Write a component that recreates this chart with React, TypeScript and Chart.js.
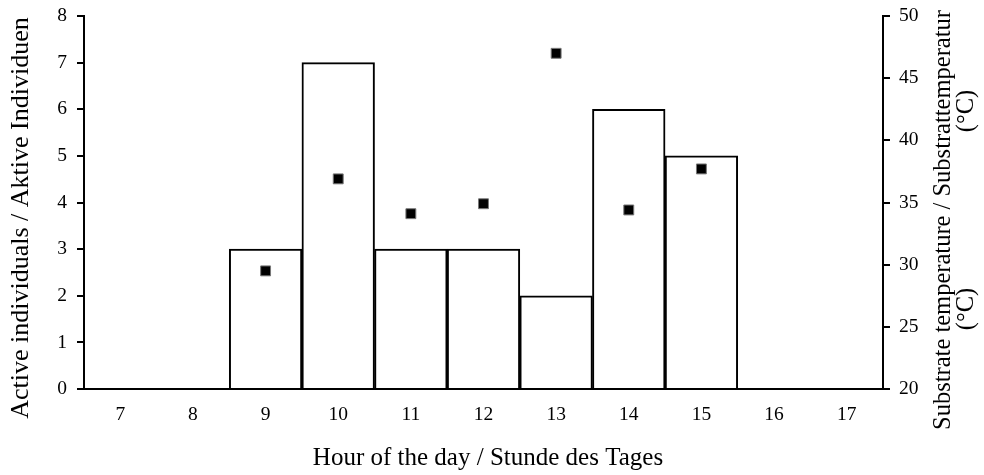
import React, { useEffect, useRef } from "react";
import { Chart, registerables } from "chart.js";

Chart.register(...registerables);

const hours: string[] = ["7", "8", "9", "10", "11", "12", "13", "14", "15", "16", "17"];
const activeIndividuals: number[] = [0, 0, 3, 7, 3, 3, 2, 6, 5, 0, 0];
const substrateTemperature: (number | null)[] = [null, null, 29.5, 36.9, 34.1, 34.9, 47.0, 34.4, 37.7, null, null];

const leftTitle = "Active individuals / Aktive Individuen";
const bottomTitle = "Hour of the day / Stunde des Tages";
const rightTitle = "Substrate temperature / Substrattemperatur";
const unitLabel = "(°C)";

const FONT = '"Liberation Serif", "Times New Roman", serif';

const titlesPlugin = {
  id: "customTitles",
  afterDraw(chart: any) {
    const ctx = chart.ctx as CanvasRenderingContext2D;
    ctx.save();
    ctx.fillStyle = "#000";
    ctx.textAlign = "center";
    ctx.textBaseline = "middle";
    // bottom title
    ctx.font = `25px ${FONT}`;
    ctx.fillText(bottomTitle, 488, 458);
    // left title
    ctx.save();
    ctx.font = `26px ${FONT}`;
    ctx.translate(21, 218);
    ctx.rotate(-Math.PI / 2);
    ctx.fillText(leftTitle, 0, 0);
    ctx.restore();
    // right title
    ctx.font = `24.5px ${FONT}`;
    ctx.save();
    ctx.translate(944, 220);
    ctx.rotate(-Math.PI / 2);
    ctx.fillText(rightTitle, 0, 0);
    ctx.restore();
    for (const cy of [309, 111]) {
      ctx.save();
      ctx.translate(967, cy);
      ctx.rotate(-Math.PI / 2);
      ctx.fillText(unitLabel, 0, 0);
      ctx.restore();
    }
    ctx.restore();
  },
};

export default function App() {
  const canvasRef = useRef<HTMLCanvasElement | null>(null);

  useEffect(() => {
    if (!canvasRef.current) return;
    const tickFont = { family: FONT, size: 19.5 };
    const chart = new Chart(canvasRef.current, {
      type: "bar",
      data: {
        labels: hours,
        datasets: [
          {
            type: "line",
            label: "Substrate temperature",
            data: substrateTemperature,
            yAxisID: "y1",
            showLine: false,
            pointStyle: "rect",
            pointRadius: 7,
            pointBackgroundColor: "#000",
            pointBorderColor: "#777",
            pointBorderWidth: 1,
            order: 0,
          } as any,
          {
            type: "bar",
            label: "Active individuals",
            data: activeIndividuals,
            yAxisID: "y",
            backgroundColor: "#fff",
            borderColor: "#000",
            borderWidth: 2,
            borderSkipped: "bottom",
            barPercentage: 1,
            categoryPercentage: 1,
            order: 1,
          },
        ],
      },
      options: {
        responsive: false,
        animation: false,
        layout: { padding: { top: 16, left: 0, right: 0, bottom: 0 } },
        plugins: {
          legend: { display: false },
          tooltip: { enabled: false },
          title: { display: false },
        },
        scales: {
          x: {
            type: "category",
            offset: true,
            grid: { display: false, drawTicks: false },
            border: { display: true, color: "#000", width: 2 },
            ticks: { color: "#000", font: tickFont, padding: 14, maxRotation: 0 },
            afterFit: (s: any) => {
              s.height = 86;
              s.paddingLeft = 0;
              s.paddingRight = 0;
            },
          },
          y: {
            position: "left",
            min: 0,
            max: 8,
            grid: { drawOnChartArea: false, drawTicks: true, tickLength: 7, color: "#000", lineWidth: 2 },
            border: { display: true, color: "#000", width: 2 },
            ticks: { stepSize: 1, color: "#000", font: tickFont, padding: 10 },
            afterFit: (s: any) => {
              s.width = 84;
              s.paddingTop = 0;
              s.paddingBottom = 0;
            },
          },
          y1: {
            position: "right",
            min: 20,
            max: 50,
            grid: { drawOnChartArea: false, drawTicks: true, tickLength: 7, color: "#000", lineWidth: 2 },
            border: { display: true, color: "#000", width: 2 },
            ticks: { stepSize: 5, color: "#000", font: tickFont, padding: 9 },
            afterFit: (s: any) => {
              s.width = 101;
              s.paddingTop = 0;
              s.paddingBottom = 0;
            },
          },
        },
      } as any,
      plugins: [titlesPlugin],
    });
    return () => chart.destroy();
  }, []);

  return (
    <div style={{ position: "absolute", left: 0, top: 0, width: 984, height: 475, background: "#fff" }}>
      <canvas ref={canvasRef} width={984} height={475} style={{ display: "block" }} />
    </div>
  );
}
